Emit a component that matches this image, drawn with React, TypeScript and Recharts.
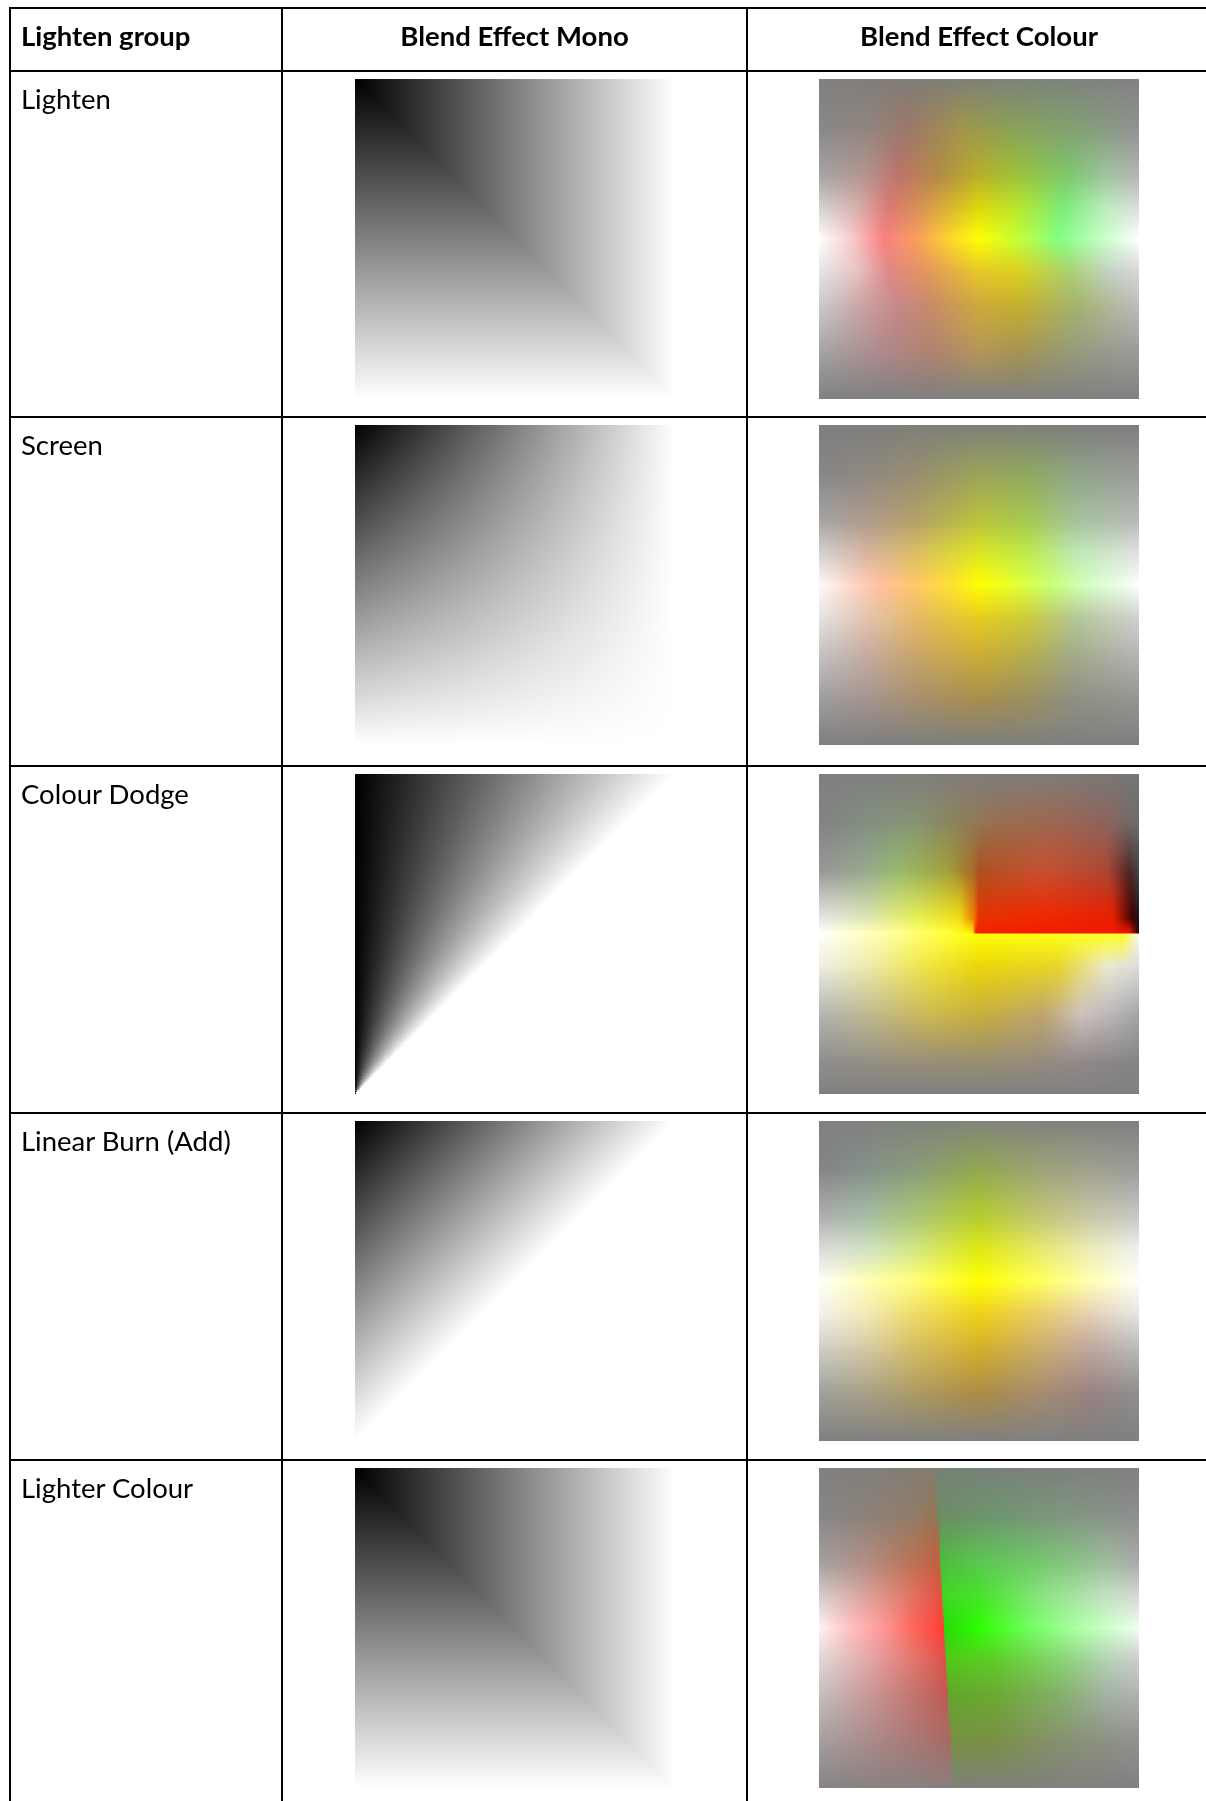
import { ComposedChart, XAxis, YAxis, ReferenceArea, Line } from "recharts";

type Stop = [number, string];
type Row = { y: number; stops: Stop[] };

const headers = ["Lighten group", "Blend Effect Mono", "Blend Effect Colour"];
const rowLabels = ["Lighten", "Screen", "Colour Dodge", "Linear Burn (Add)", "Lighter Colour"];
// css blend mode used for the mono swatch of each row
const monoModes = ["lighten", "screen", "color-dodge", "plus-lighter", "lighten"];

const monoHorizontal: Stop[] = [[0, "#000000"], [1, "#ffffff"]];
const monoVertical: Stop[] = [[0, "#000000"], [1, "#ffffff"]];
// corners of the unit square the swatches live in
const unitSquare = [
  { x: 0, y: 0 },
  { x: 1, y: 1 },
];

const g = (v: number) => `rgb(${v},${v},${v})`;

const lightenRows: Row[] = [
  { y: 0, stops: [[0, g(128)], [0.3, "rgb(128,124,118)"], [0.6, "rgb(124,132,120)"], [1, g(130)]] },
  { y: 0.15, stops: [[0, g(136)], [0.15, "rgb(145,133,127)"], [0.28, "rgb(155,120,105)"], [0.45, "rgb(160,150,75)"], [0.6, "rgb(138,160,88)"], [0.8, "rgb(128,160,115)"], [1, g(145)]] },
  { y: 0.3, stops: [[0, g(165)], [0.15, "rgb(180,148,140)"], [0.25, "rgb(190,115,105)"], [0.38, "rgb(180,140,70)"], [0.5, "rgb(185,175,40)"], [0.62, "rgb(155,195,60)"], [0.78, "rgb(125,200,110)"], [0.9, "rgb(160,195,160)"], [1, g(180)]] },
  { y: 0.4, stops: [[0, g(210)], [0.12, "rgb(215,175,170)"], [0.22, "rgb(220,120,115)"], [0.33, "rgb(215,150,80)"], [0.5, "rgb(220,215,15)"], [0.62, "rgb(185,230,45)"], [0.76, "rgb(125,235,120)"], [0.9, "rgb(190,235,190)"], [1, g(220)]] },
  { y: 0.5, stops: [[0, g(255)], [0.1, "rgb(252,205,205)"], [0.2, "rgb(248,130,130)"], [0.3, "rgb(250,155,95)"], [0.42, "rgb(255,220,40)"], [0.5, "rgb(255,255,0)"], [0.6, "rgb(205,255,45)"], [0.75, "rgb(130,255,130)"], [0.9, "rgb(205,255,205)"], [1, g(255)]] },
  { y: 0.6, stops: [[0, g(230)], [0.12, "rgb(230,195,195)"], [0.22, "rgb(225,135,135)"], [0.33, "rgb(225,150,95)"], [0.5, "rgb(232,200,40)"], [0.62, "rgb(220,210,30)"], [0.78, "rgb(170,210,110)"], [0.9, "rgb(195,210,195)"], [1, g(215)]] },
  { y: 0.7, stops: [[0, g(205)], [0.15, "rgb(205,160,160)"], [0.25, "rgb(200,135,135)"], [0.35, "rgb(200,140,105)"], [0.5, "rgb(208,170,60)"], [0.62, "rgb(200,178,45)"], [0.8, "rgb(165,180,110)"], [1, g(190)]] },
  { y: 0.85, stops: [[0, g(165)], [0.2, "rgb(175,137,140)"], [0.35, "rgb(175,130,112)"], [0.5, "rgb(180,150,90)"], [0.62, "rgb(165,148,80)"], [0.8, "rgb(150,155,125)"], [1, g(155)]] },
  { y: 1, stops: [[0, g(128)], [1, g(128)]] },
];

const screenRows: Row[] = [
  { y: 0, stops: [[0, g(126)], [0.5, "rgb(126,128,120)"], [1, g(126)]] },
  { y: 0.15, stops: [[0, g(135)], [0.15, "rgb(143,136,128)"], [0.3, "rgb(150,142,112)"], [0.5, "rgb(155,162,90)"], [0.65, "rgb(145,168,98)"], [0.8, "rgb(143,163,135)"], [1, g(155)]] },
  { y: 0.3, stops: [[0, g(165)], [0.15, "rgb(175,155,140)"], [0.3, "rgb(182,160,105)"], [0.5, "rgb(185,195,60)"], [0.65, "rgb(165,200,80)"], [0.8, "rgb(165,195,155)"], [1, g(185)]] },
  { y: 0.4, stops: [[0, g(210)], [0.15, "rgb(215,180,160)"], [0.3, "rgb(220,190,100)"], [0.5, "rgb(220,230,35)"], [0.65, "rgb(190,235,75)"], [0.8, "rgb(190,232,180)"], [1, g(225)]] },
  { y: 0.5, stops: [[0, "rgb(255,250,250)"], [0.1, "rgb(255,215,200)"], [0.2, "rgb(255,192,155)"], [0.3, "rgb(255,200,105)"], [0.42, "rgb(255,228,45)"], [0.5, "rgb(255,255,0)"], [0.6, "rgb(232,255,45)"], [0.72, "rgb(200,255,115)"], [0.85, "rgb(212,255,200)"], [1, "rgb(250,255,250)"]] },
  { y: 0.6, stops: [[0, g(228)], [0.15, "rgb(228,195,175)"], [0.3, "rgb(228,185,105)"], [0.5, "rgb(232,205,30)"], [0.65, "rgb(205,205,60)"], [0.8, "rgb(180,200,150)"], [1, g(210)]] },
  { y: 0.7, stops: [[0, g(200)], [0.15, "rgb(203,175,162)"], [0.3, "rgb(205,168,105)"], [0.5, "rgb(208,178,50)"], [0.65, "rgb(185,178,75)"], [0.8, "rgb(165,175,140)"], [1, g(185)]] },
  { y: 0.85, stops: [[0, g(160)], [0.15, "rgb(165,150,145)"], [0.3, "rgb(168,145,110)"], [0.5, "rgb(170,143,75)"], [0.65, "rgb(155,145,95)"], [0.8, "rgb(145,145,130)"], [1, g(150)]] },
  { y: 1, stops: [[0, g(126)], [1, g(126)]] },
];

const dodgeRows: Row[] = [
  { y: 0, stops: [[0, g(128)], [0.7, "rgb(128,124,120)"], [1, g(118)]] },
  { y: 0.15, stops: [[0, g(130)], [0.15, "rgb(130,143,130)"], [0.3, "rgb(135,148,115)"], [0.43, "rgb(140,130,92)"], [0.55, "rgb(150,112,80)"], [0.75, "rgb(158,102,82)"], [0.9, "rgb(140,100,92)"], [1, g(108)]] },
  { y: 0.3, stops: [[0, g(150)], [0.15, "rgb(150,170,140)"], [0.25, "rgb(152,185,110)"], [0.4, "rgb(162,160,60)"], [0.48, "rgb(165,110,40)"], [0.5, "rgb(172,82,32)"], [0.7, "rgb(200,80,50)"], [0.9, "rgb(170,72,52)"], [0.97, "rgb(80,40,40)"], [1, g(70)]] },
  { y: 0.45, stops: [[0, g(230)], [0.15, "rgb(222,230,180)"], [0.3, "rgb(230,240,90)"], [0.44, "rgb(242,222,20)"], [0.485, "rgb(235,120,0)"], [0.5, "rgb(232,50,0)"], [0.7, "rgb(240,40,0)"], [0.92, "rgb(232,30,0)"], [0.98, "rgb(60,0,0)"], [1, g(25)]] },
  { y: 0.496875, stops: [[0, "rgb(255,255,250)"], [0.2, "rgb(255,255,170)"], [0.4, "rgb(255,255,60)"], [0.48, "rgb(255,240,0)"], [0.49, "rgb(245,32,0)"], [0.97, "rgb(242,22,0)"], [1, "rgb(30,0,0)"]] },
  { y: 0.5, stops: [[0, "rgb(255,255,250)"], [0.2, "rgb(255,255,170)"], [0.5, "rgb(255,255,0)"], [0.95, "rgb(255,255,40)"], [1, g(250)]] },
  { y: 0.6, stops: [[0, "rgb(238,238,228)"], [0.15, "rgb(238,234,175)"], [0.35, "rgb(238,228,60)"], [0.5, "rgb(234,214,10)"], [0.75, "rgb(232,212,42)"], [0.9, "rgb(235,232,210)"], [1, g(220)]] },
  { y: 0.75, stops: [[0, g(180)], [0.15, "rgb(190,185,145)"], [0.35, "rgb(205,185,82)"], [0.5, "rgb(200,175,60)"], [0.7, "rgb(190,165,110)"], [0.82, "rgb(205,195,190)"], [0.92, "rgb(185,180,185)"], [1, g(165)]] },
  { y: 0.9, stops: [[0, g(142)], [0.3, "rgb(152,142,122)"], [0.5, "rgb(152,142,112)"], [0.8, "rgb(147,137,137)"], [1, g(132)]] },
  { y: 1, stops: [[0, g(128)], [1, g(128)]] },
];

const addRows: Row[] = [
  { y: 0, stops: [[0, g(128)], [0.5, "rgb(128,132,122)"], [1, g(128)]] },
  { y: 0.15, stops: [[0, g(132)], [0.15, "rgb(132,145,138)"], [0.3, "rgb(137,155,122)"], [0.5, "rgb(145,168,80)"], [0.7, "rgb(158,162,122)"], [0.85, "rgb(160,160,142)"], [1, g(155)]] },
  { y: 0.3, stops: [[0, g(175)], [0.15, "rgb(168,190,165)"], [0.3, "rgb(172,198,120)"], [0.5, "rgb(182,205,45)"], [0.7, "rgb(195,198,120)"], [0.85, "rgb(200,200,168)"], [1, g(200)]] },
  { y: 0.4, stops: [[0, g(220)], [0.15, "rgb(208,225,195)"], [0.3, "rgb(212,230,130)"], [0.5, "rgb(222,232,20)"], [0.7, "rgb(232,232,115)"], [0.85, "rgb(236,236,185)"], [1, g(240)]] },
  { y: 0.5, stops: [[0, "rgb(255,255,250)"], [0.15, "rgb(255,255,180)"], [0.3, "rgb(255,255,120)"], [0.5, "rgb(255,255,0)"], [0.7, "rgb(255,255,100)"], [0.85, "rgb(255,255,180)"], [1, "rgb(255,255,250)"]] },
  { y: 0.6, stops: [[0, "rgb(242,242,236)"], [0.15, "rgb(242,234,182)"], [0.3, "rgb(238,220,105)"], [0.5, "rgb(238,210,22)"], [0.7, "rgb(234,205,112)"], [0.85, "rgb(230,210,184)"], [1, g(230)]] },
  { y: 0.7, stops: [[0, "rgb(210,210,205)"], [0.15, "rgb(215,205,165)"], [0.3, "rgb(215,192,100)"], [0.5, "rgb(215,178,40)"], [0.7, "rgb(205,175,112)"], [0.85, "rgb(195,170,160)"], [1, g(190)]] },
  { y: 0.85, stops: [[0, "rgb(160,160,156)"], [0.15, "rgb(168,160,135)"], [0.3, "rgb(172,155,100)"], [0.5, "rgb(172,140,70)"], [0.7, "rgb(165,140,112)"], [0.85, "rgb(152,130,130)"], [1, g(142)]] },
  { y: 1, stops: [[0, g(128)], [1, g(128)]] },
];

const lighterRows: Row[] = [
  { y: 0, stops: [[0, g(128)], [0.36, "rgb(132,125,115)"], [0.36, "rgb(118,130,118)"], [1, g(128)]] },
  { y: 0.15, stops: [[0, g(135)], [0.15, "rgb(140,130,122)"], [0.3, "rgb(145,124,102)"], [0.369, "rgb(150,115,82)"], [0.369, "rgb(108,140,100)"], [0.55, "rgb(110,150,110)"], [0.8, "rgb(130,150,130)"], [1, g(142)]] },
  { y: 0.3, stops: [[0, "rgb(165,162,162)"], [0.15, "rgb(180,142,132)"], [0.3, "rgb(190,112,82)"], [0.378, "rgb(196,95,62)"], [0.378, "rgb(78,188,58)"], [0.5, "rgb(90,200,80)"], [0.7, "rgb(120,200,112)"], [0.9, "rgb(160,190,160)"], [1, g(172)]] },
  { y: 0.4, stops: [[0, "rgb(215,205,205)"], [0.12, "rgb(220,170,165)"], [0.25, "rgb(225,130,115)"], [0.384, "rgb(228,80,60)"], [0.384, "rgb(65,215,35)"], [0.5, "rgb(70,228,40)"], [0.7, "rgb(140,228,130)"], [0.9, "rgb(195,225,195)"], [1, g(215)]] },
  { y: 0.5, stops: [[0, "rgb(255,242,242)"], [0.1, "rgb(255,192,192)"], [0.2, "rgb(255,152,152)"], [0.3, "rgb(255,100,90)"], [0.39, "rgb(255,62,52)"], [0.39, "rgb(40,218,10)"], [0.5, "rgb(45,255,0)"], [0.65, "rgb(110,255,92)"], [0.8, "rgb(170,255,160)"], [0.95, "rgb(222,255,222)"], [1, "rgb(240,255,240)"]] },
  { y: 0.6, stops: [[0, "rgb(225,215,215)"], [0.15, "rgb(228,168,168)"], [0.3, "rgb(225,118,108)"], [0.396, "rgb(220,82,72)"], [0.396, "rgb(80,200,25)"], [0.55, "rgb(95,205,40)"], [0.75, "rgb(135,212,115)"], [0.9, "rgb(180,210,180)"], [1, g(205)]] },
  { y: 0.7, stops: [[0, "rgb(200,192,192)"], [0.15, "rgb(202,155,155)"], [0.3, "rgb(198,115,108)"], [0.402, "rgb(192,90,82)"], [0.402, "rgb(98,168,42)"], [0.55, "rgb(108,170,50)"], [0.75, "rgb(132,178,105)"], [0.9, "rgb(165,180,165)"], [1, g(180)]] },
  { y: 0.85, stops: [[0, "rgb(165,160,160)"], [0.15, "rgb(170,140,140)"], [0.3, "rgb(170,120,116)"], [0.411, "rgb(168,105,100)"], [0.411, "rgb(118,145,68)"], [0.55, "rgb(122,145,68)"], [0.75, "rgb(135,145,112)"], [1, g(145)]] },
  { y: 1, stops: [[0, "rgb(135,130,130)"], [0.42, "rgb(138,128,128)"], [0.42, "rgb(126,128,120)"], [1, g(128)]] },
];

const colourRows = [lightenRows, screenRows, dodgeRows, addRows, lighterRows];

const IMG = 320;
const LINE = 2;
const lineTops = [7, 70, 416, 765, 1112, 1459];
const colLines = [9, 281, 746];
const FONT = "Lato, 'Open Sans', sans-serif";
const TEXT_SIZE = 27.5;

const GradientStops = ({ stops }: { stops: Stop[] }) => (
  <>
    {stops.map(([o, c], j) => (
      <stop key={j} offset={o} stopColor={c} />
    ))}
  </>
);

const chartMargin = { top: 0, right: 0, bottom: 0, left: 0 };

const MonoSwatch = ({ id, mode }: { id: string; mode: string }) => (
  <ComposedChart width={IMG} height={IMG} margin={chartMargin} data={unitSquare}>
    <defs>
      <linearGradient id={`${id}-h`} x1="0" y1="0" x2="1" y2="0">
        <GradientStops stops={monoHorizontal} />
      </linearGradient>
      <linearGradient id={`${id}-v`} x1="0" y1="0" x2="0" y2="1">
        <GradientStops stops={monoVertical} />
      </linearGradient>
    </defs>
    <XAxis type="number" dataKey="x" domain={[0, 1]} allowDataOverflow hide />
    <YAxis type="number" domain={[0, 1]} allowDataOverflow reversed hide />
    <Line dataKey="y" stroke="none" dot={false} activeDot={false} isAnimationActive={false} />
    <ReferenceArea x1={0} x2={1} y1={0} y2={1} fill={`url(#${id}-h)`} fillOpacity={1} stroke="none" />
    <ReferenceArea
      x1={0}
      x2={1}
      y1={0}
      y2={1}
      fill={`url(#${id}-v)`}
      fillOpacity={1}
      stroke="none"
      className={`mb-${mode}`}
    />
  </ComposedChart>
);

// colour swatch: rows of horizontal gradients, blended vertically with a mask ramp
const ColourSwatch = ({ id, rows }: { id: string; rows: Row[] }) => (
  <ComposedChart width={IMG} height={IMG} margin={chartMargin} data={unitSquare}>
    <defs>
      {rows.map((r, i) => (
        <linearGradient key={i} id={`${id}-${i}`} x1="0" y1="0" x2="1" y2="0">
          <GradientStops stops={r.stops} />
        </linearGradient>
      ))}
      <linearGradient id={`${id}-ramp`} x1="0" y1="0" x2="0" y2="1">
        <stop offset={0} stopColor="#ffffff" stopOpacity={0} />
        <stop offset={1} stopColor="#ffffff" stopOpacity={1} />
      </linearGradient>
      <mask id={`${id}-mask`} maskContentUnits="objectBoundingBox">
        <rect x={0} y={0} width={1} height={1} fill={`url(#${id}-ramp)`} />
      </mask>
    </defs>
    <XAxis type="number" dataKey="x" domain={[0, 1]} allowDataOverflow hide />
    <YAxis type="number" domain={[0, 1]} allowDataOverflow reversed hide />
    <Line dataKey="y" stroke="none" dot={false} activeDot={false} isAnimationActive={false} />
    {rows.slice(0, -1).map((r, i) => (
      <ReferenceArea
        key={`a${i}`}
        x1={0}
        x2={1}
        y1={r.y}
        y2={rows[i + 1].y}
        fill={`url(#${id}-${i})`}
        fillOpacity={1}
        stroke="none"
      />
    ))}
    {rows.slice(0, -1).map((r, i) => (
      <ReferenceArea
        key={`b${i}`}
        x1={0}
        x2={1}
        y1={r.y}
        y2={rows[i + 1].y}
        fill={`url(#${id}-${i + 1})`}
        fillOpacity={1}
        stroke="none"
        mask={`url(#${id}-mask)`}
      />
    ))}
  </ComposedChart>
);

const App = () => {
  const right = 1206;
  return (
    <div style={{ position: "relative", width: 1206, height: 1801, overflow: "hidden", background: "#fff", fontFamily: FONT, color: "#000" }}>
      <style>{`
        body { margin: 0; overflow: hidden; }
        .mb-lighten { mix-blend-mode: lighten; }
        .mb-screen { mix-blend-mode: screen; }
        .mb-color-dodge { mix-blend-mode: color-dodge; }
        .mb-plus-lighter { mix-blend-mode: plus-lighter; }
      `}</style>

      {/* grid lines */}
      {lineTops.map((t, i) => (
        <div key={`h${i}`} style={{ position: "absolute", left: colLines[0], top: t, width: right - colLines[0], height: LINE, background: "#000" }} />
      ))}
      {colLines.map((x, i) => (
        <div key={`v${i}`} style={{ position: "absolute", left: x, top: lineTops[0], width: LINE, height: 1801 - lineTops[0], background: "#000" }} />
      ))}

      {/* header */}
      <div style={{ position: "absolute", left: 21, top: 19, fontSize: TEXT_SIZE, lineHeight: 1.2, fontWeight: 700, whiteSpace: "nowrap" }}>
        {headers[0]}
      </div>
      <div style={{ position: "absolute", left: colLines[1] + LINE, width: colLines[2] - colLines[1] - LINE, top: 19, fontSize: TEXT_SIZE, lineHeight: 1.2, fontWeight: 700, textAlign: "center", whiteSpace: "nowrap" }}>
        {headers[1]}
      </div>
      <div style={{ position: "absolute", left: 979 - 200, width: 400, top: 19, fontSize: TEXT_SIZE, lineHeight: 1.2, fontWeight: 700, textAlign: "center", whiteSpace: "nowrap" }}>
        {headers[2]}
      </div>

      {rowLabels.map((label, i) => {
        const top = lineTops[i + 1];
        return (
          <div key={label}>
            <div style={{ position: "absolute", left: 21, top: top + 12, fontSize: TEXT_SIZE, lineHeight: 1.2, whiteSpace: "nowrap" }}>
              {label}
            </div>
            <div style={{ position: "absolute", left: 355, top: top + 9 }}>
              <MonoSwatch id={`mono${i}`} mode={monoModes[i]} />
            </div>
            <div style={{ position: "absolute", left: 819, top: top + 9 }}>
              <ColourSwatch id={`col${i}`} rows={colourRows[i]} />
            </div>
          </div>
        );
      })}
    </div>
  );
};

export default App;
